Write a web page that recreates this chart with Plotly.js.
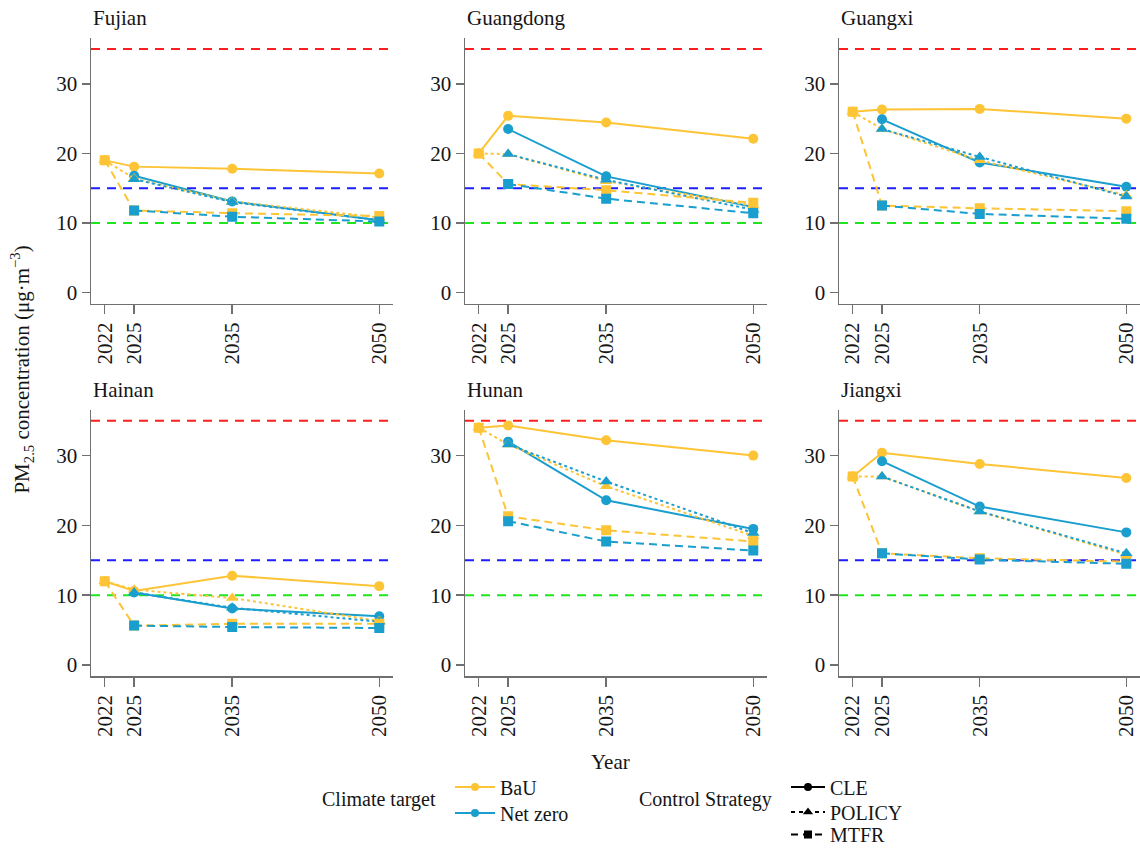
<!DOCTYPE html>
<html><head><meta charset="utf-8">
<script src="https://cdn.plot.ly/plotly-3.0.1.min.js"></script>
<style>html,body{margin:0;padding:0;background:#fff}#chart{width:1140px;height:854px}</style>
</head><body><div id="chart"></div>
<script>
const years = [2022, 2025, 2035, 2050];
const yearTicks = ['2022', '2025', '2035', '2050'];
const provinces = ['Fujian', 'Guangdong', 'Guangxi', 'Hainan', 'Hunan', 'Jiangxi'];
const thresholdValues = [35, 15, 10];
const climateTargets = ['BaU', 'Net zero'];
const strategies = ['CLE', 'POLICY', 'MTFR'];

// Fujian
const fujian_BaU_CLE = [19, 18.1, 17.8, 17.1];
const fujian_BaU_POLICY = [19, 16.4, 13.1, 10.8];
const fujian_BaU_MTFR = [19, 11.8, 11.4, 11.0];
const fujian_NZ_CLE = [null, 16.8, 13.1, 10.4];
const fujian_NZ_POLICY = [null, 16.3, 13.0, 10.4];
const fujian_NZ_MTFR = [null, 11.8, 10.9, 10.2];
// Guangdong
const guangdong_BaU_CLE = [20, 25.4, 24.45, 22.1];
const guangdong_BaU_POLICY = [20, 19.9, 16.0, 12.5];
const guangdong_BaU_MTFR = [20, 15.6, 14.7, 12.9];
const guangdong_NZ_CLE = [null, 23.5, 16.7, 12.3];
const guangdong_NZ_POLICY = [null, 19.9, 16.2, 11.9];
const guangdong_NZ_MTFR = [null, 15.6, 13.5, 11.4];
// Guangxi
const guangxi_BaU_CLE = [26, 26.3, 26.4, 25.0];
const guangxi_BaU_POLICY = [26, 23.5, 19.0, 14.0];
const guangxi_BaU_MTFR = [26, 12.5, 12.1, 11.7];
const guangxi_NZ_CLE = [null, 24.9, 18.7, 15.2];
const guangxi_NZ_POLICY = [null, 23.5, 19.5, 13.8];
const guangxi_NZ_MTFR = [null, 12.5, 11.3, 10.6];
// Hainan
const hainan_BaU_CLE = [12, 10.6, 12.8, 11.3];
const hainan_BaU_POLICY = [12, 10.8, 9.6, 6.3];
const hainan_BaU_MTFR = [12, 5.65, 5.9, 5.9];
const hainan_NZ_CLE = [null, 10.4, 8.1, 7.0];
const hainan_NZ_POLICY = [null, 10.4, 8.2, 6.2];
const hainan_NZ_MTFR = [null, 5.65, 5.45, 5.3];
// Hunan
const hunan_BaU_CLE = [34, 34.3, 32.2, 30.0];
const hunan_BaU_POLICY = [34, 31.6, 25.6, 18.5];
const hunan_BaU_MTFR = [34, 21.3, 19.3, 17.7];
const hunan_NZ_CLE = [null, 32.0, 23.6, 19.5];
const hunan_NZ_POLICY = [null, 31.6, 26.3, 18.9];
const hunan_NZ_MTFR = [null, 20.6, 17.7, 16.4];
// Jiangxi
const jiangxi_BaU_CLE = [27, 30.4, 28.8, 26.8];
const jiangxi_BaU_POLICY = [27, 27.0, 22.0, 15.8];
const jiangxi_BaU_MTFR = [27, 16.0, 15.3, 14.8];
const jiangxi_NZ_CLE = [null, 29.2, 22.7, 19.0];
const jiangxi_NZ_POLICY = [null, 27.0, 22.0, 16.0];
const jiangxi_NZ_MTFR = [null, 16.0, 15.1, 14.5];

// per province: [BaU CLE, NZ CLE, BaU POLICY, NZ POLICY, BaU MTFR, NZ MTFR] (drawing order)
const series = [
  [fujian_BaU_CLE, fujian_NZ_CLE, fujian_BaU_POLICY, fujian_NZ_POLICY, fujian_BaU_MTFR, fujian_NZ_MTFR],
  [guangdong_BaU_CLE, guangdong_NZ_CLE, guangdong_BaU_POLICY, guangdong_NZ_POLICY, guangdong_BaU_MTFR, guangdong_NZ_MTFR],
  [guangxi_BaU_CLE, guangxi_NZ_CLE, guangxi_BaU_POLICY, guangxi_NZ_POLICY, guangxi_BaU_MTFR, guangxi_NZ_MTFR],
  [hainan_BaU_CLE, hainan_NZ_CLE, hainan_BaU_POLICY, hainan_NZ_POLICY, hainan_BaU_MTFR, hainan_NZ_MTFR],
  [hunan_BaU_CLE, hunan_NZ_CLE, hunan_BaU_POLICY, hunan_NZ_POLICY, hunan_BaU_MTFR, hunan_NZ_MTFR],
  [jiangxi_BaU_CLE, jiangxi_NZ_CLE, jiangxi_BaU_POLICY, jiangxi_NZ_POLICY, jiangxi_BaU_MTFR, jiangxi_NZ_MTFR]
];

// styles
const FONT = '"Liberation Serif", "Times New Roman", Tinos, "DejaVu Serif", serif';
const FS = 21;
const LFS = 20;
const TXT = '#151515';
const W = 1140, H = 854;
const climateColors = ['#FDC435', '#1A9ECE'];
const strategyDash = ['solid', '3px,3px', '8px,5px'];
const strategySymbol = ['circle', 'triangle-up', 'square'];
const thresholdColors = ['#FF1E1E', '#1E1EFF', '#1EE61E'];
const axisColor = '#707070';

const colDomPx = [[91, 393], [465, 767], [839, 1140]];
const rowDomPx = [[38, 304], [410, 677]];
const px2x = p => p / W;
const px2y = p => 1 - p / H;

const traces = [];
const layout = {
  width: W, height: H,
  margin: {l: 0, r: 0, t: 0, b: 0},
  paper_bgcolor: '#fff', plot_bgcolor: 'rgba(0,0,0,0)',
  font: {family: FONT, size: FS, color: TXT},
  showlegend: true,
  shapes: [], annotations: []
};

provinces.forEach((prov, i) => {
  const n = i + 1;
  const xa = n === 1 ? 'x' : 'x' + n;
  const ya = n === 1 ? 'y' : 'y' + n;
  const col = i % 3, row = Math.floor(i / 3);
  const xd = colDomPx[col], yd = rowDomPx[row];
  layout[n === 1 ? 'xaxis' : 'xaxis' + n] = {
    domain: [px2x(xd[0]), px2x(xd[1])], anchor: ya,
    range: [2020.6, 2051.4], tickvals: years, ticktext: yearTicks, tickangle: -90,
    showline: true, linecolor: axisColor, linewidth: 1.5, ticks: 'outside', ticklen: 9, tickwidth: 1.5, tickcolor: axisColor,
    showgrid: false, zeroline: false, tickfont: {family: FONT, size: FS, color: TXT}, fixedrange: true
  };
  layout[n === 1 ? 'yaxis' : 'yaxis' + n] = {
    domain: [px2y(yd[1]), px2y(yd[0])], anchor: xa,
    range: [-1.6, 36.6], tickvals: [0, 10, 20, 30],
    showline: true, linecolor: axisColor, linewidth: 1.5, ticks: 'outside', ticklen: 8, tickwidth: 1.5, tickcolor: axisColor,
    showgrid: false, zeroline: false, tickfont: {family: FONT, size: FS, color: TXT}, fixedrange: true
  };
  thresholdValues.forEach((v, k) => {
    layout.shapes.push({type: 'line', xref: xa + ' domain', yref: ya, x0: 0, x1: 1, y0: v, y1: v,
      line: {color: thresholdColors[k], width: 2, dash: '9px,7px'}, layer: 'below'});
  });
  series[i].forEach((vals, s) => {
    const c = s % 2, st = Math.floor(s / 2);
    traces.push({
      x: years, y: vals, xaxis: xa, yaxis: ya, mode: 'lines+markers', showlegend: false,
      connectgaps: false, hoverinfo: 'skip',
      line: {color: climateColors[c], width: 2, dash: strategyDash[st]},
      marker: {color: climateColors[c], size: st === 1 ? 11 : 10, symbol: strategySymbol[st]}
    });
  });
  layout.annotations.push({
    text: prov, xref: 'paper', yref: 'paper', x: px2x(xd[0]), y: px2y(yd[0] - 20),
    xanchor: 'left', yanchor: 'middle', showarrow: false, font: {family: FONT, size: FS, color: TXT}
  });
});

// legend entries: one legend box per entry so rows can be spaced like the reference
const legendRows = [
  {id: 'legend', x: 450, y: 787, w: 40},
  {id: 'legend2', x: 450, y: 813, w: 40},
  {id: 'legend3', x: 786, y: 787, w: 34},
  {id: 'legend4', x: 786, y: 812, w: 34},
  {id: 'legend5', x: 786, y: 835, w: 34}
];
climateTargets.forEach((name, c) => {
  traces.push({x: [null], y: [null], mode: 'lines+markers', name: name, legend: legendRows[c].id, showlegend: true,
    line: {color: climateColors[c], width: 2}, marker: {color: climateColors[c], size: 8, symbol: 'circle'}});
});
strategies.forEach((name, st) => {
  traces.push({x: [null], y: [null], mode: 'lines+markers', name: name, legend: legendRows[2 + st].id, showlegend: true,
    line: {color: '#000', width: 2, dash: st === 1 ? '4px,4px' : (st === 2 ? '7px,5px' : 'solid')},
    marker: {color: '#000', size: st === 1 ? 9 : 8, symbol: strategySymbol[st]}});
});
legendRows.forEach(r => {
  layout[r.id] = {x: px2x(r.x), xanchor: 'left', y: px2y(r.y), yanchor: 'middle', bgcolor: 'rgba(0,0,0,0)',
    font: {family: FONT, size: LFS, color: TXT}, itemwidth: r.w, tracegroupgap: 0, borderwidth: 0};
});

layout.annotations.push(
  {text: 'PM<sub>2.5</sub> concentration (μg·m<sup>−3</sup>)', xref: 'paper', yref: 'paper', x: px2x(22), y: px2y(370),
   xanchor: 'center', yanchor: 'middle', textangle: -90, showarrow: false, font: {family: FONT, size: FS, color: TXT}},
  {text: 'Year', xref: 'paper', yref: 'paper', x: px2x(610), y: px2y(763), xanchor: 'center', yanchor: 'middle', showarrow: false,
   font: {family: FONT, size: FS, color: TXT}},
  {text: 'Climate target', xref: 'paper', yref: 'paper', x: px2x(438), y: px2y(800), xanchor: 'right', yanchor: 'middle', showarrow: false,
   font: {family: FONT, size: LFS, color: TXT}},
  {text: 'Control Strategy', xref: 'paper', yref: 'paper', x: px2x(774), y: px2y(800), xanchor: 'right', yanchor: 'middle', showarrow: false,
   font: {family: FONT, size: LFS, color: TXT}}
);

Plotly.newPlot('chart', traces, layout, {displayModeBar: false, staticPlot: true});
</script></body></html>
